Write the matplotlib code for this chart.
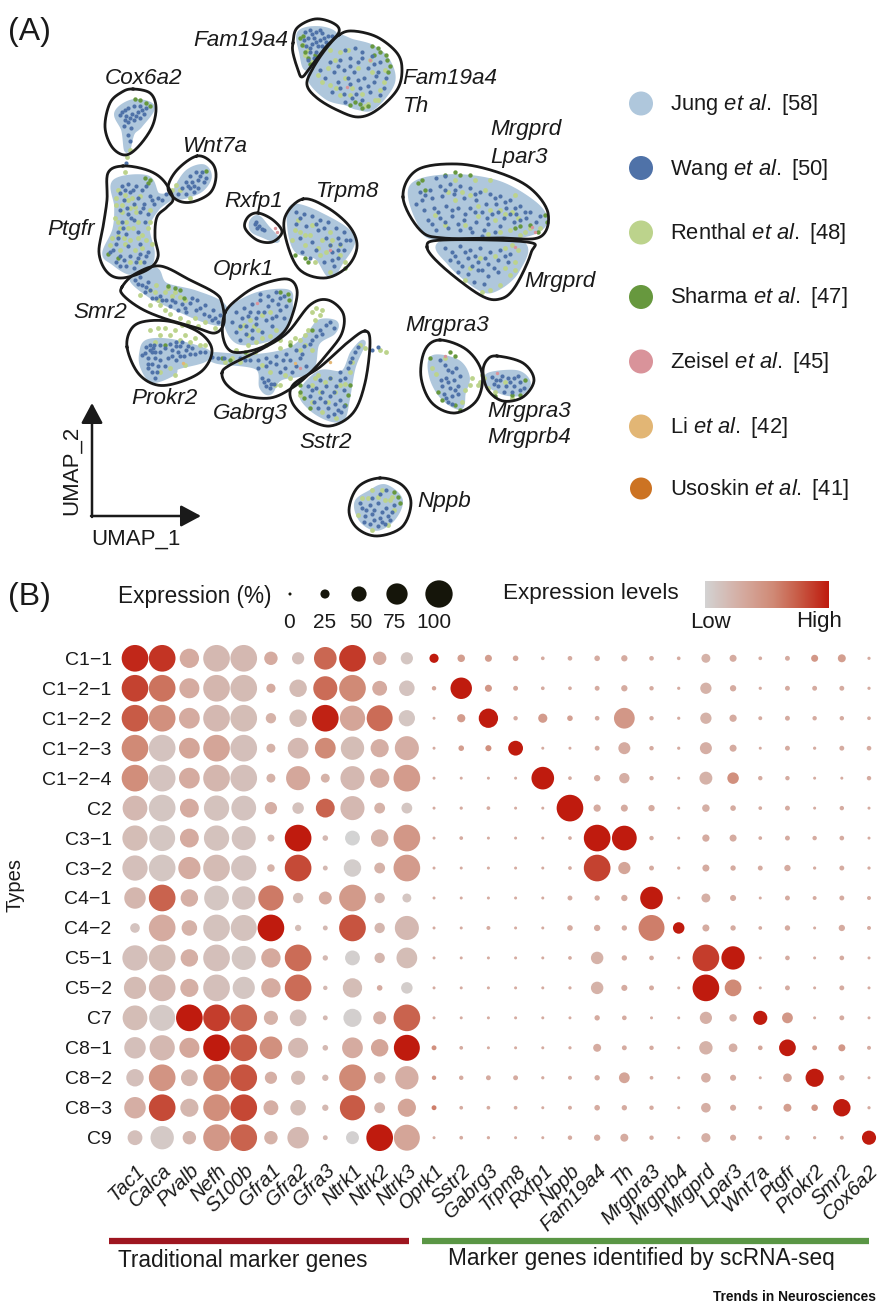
import numpy as np
import matplotlib
matplotlib.use("Agg")
import matplotlib.pyplot as plt
from matplotlib.colors import LinearSegmentedColormap
from matplotlib.transforms import ScaledTranslation

plt.rcParams["font.family"] = ["Liberation Sans", "DejaVu Sans"]
plt.rcParams["mathtext.fontset"] = "custom"
plt.rcParams["mathtext.rm"] = "Liberation Sans"
plt.rcParams["mathtext.it"] = "Liberation Sans:italic"

# ---- dot plot values ----
row_names = ["C1−1", "C1−2−1", "C1−2−2", "C1−2−3", "C1−2−4", "C2", "C3−1", "C3−2", "C4−1",
             "C4−2", "C5−1", "C5−2", "C7", "C8−1", "C8−2", "C8−3", "C9"]
gene_names = ["Tac1", "Calca", "Pvalb", "Nefh", "S100b", "Gfra1", "Gfra2", "Gfra3", "Ntrk1", "Ntrk2",
              "Ntrk3", "Oprk1", "Sstr2", "Gabrg3", "Trpm8", "Rxfp1", "Nppb", "Fam19a4", "Th", "Mrgpra3",
              "Mrgprb4", "Mrgprd", "Lpar3", "Wnt7a", "Ptgfr", "Prokr2", "Smr2", "Cox6a2"]

# percent of cells expressing
pct = [
    [100, 100, 69, 100, 100, 44, 39, 83, 100, 44, 39, 26, 19, 17, 11, 3, 7, 11, 14, 7, 3, 25, 17, 3, 8, 17, 21, 1],
    [100, 100, 72, 100, 100, 26, 61, 89, 100, 50, 53, 6, 78, 17, 8, 3, 3, 8, 14, 6, 1, 35, 14, 1, 8, 8, 8, 1],
    [100, 100, 75, 100, 100, 31, 61, 100, 94, 97, 56, 0, 22, 69, 6, 26, 11, 7, 75, 6, 1, 35, 18, 4, 8, 6, 6, 3],
    [100, 100, 75, 100, 100, 25, 75, 75, 86, 64, 89, 0, 11, 13, 50, 0, 0, 8, 38, 6, 1, 38, 17, 0, 8, 1, 8, 7],
    [100, 100, 75, 100, 100, 25, 89, 25, 89, 69, 100, 0, 0, 0, 0, 83, 3, 14, 31, 6, 0, 42, 36, 6, 6, 0, 0, 6],
    [92, 100, 67, 94, 92, 39, 36, 67, 89, 33, 33, 0, 1, 3, 0, 0, 100, 18, 17, 14, 0, 19, 11, 3, 8, 0, 6, 0],
    [94, 97, 67, 94, 89, 17, 100, 11, 50, 61, 100, 0, 3, 0, 0, 0, 3, 100, 92, 6, 0, 18, 17, 3, 8, 6, 7, 0],
    [94, 100, 81, 100, 94, 19, 100, 8, 61, 33, 100, 0, 0, 0, 0, 0, 3, 100, 39, 8, 1, 17, 10, 8, 14, 1, 8, 1],
    [78, 100, 61, 92, 86, 94, 31, 42, 100, 31, 25, 0, 0, 0, 0, 0, 8, 10, 14, 83, 0, 25, 13, 0, 8, 4, 8, 4],
    [28, 100, 53, 100, 97, 100, 14, 8, 100, 31, 89, 0, 0, 4, 0, 0, 11, 14, 10, 97, 36, 17, 10, 3, 10, 0, 14, 4],
    [94, 100, 61, 100, 89, 69, 100, 10, 50, 31, 75, 0, 0, 0, 0, 0, 3, 40, 10, 7, 0, 100, 86, 0, 7, 0, 7, 0],
    [81, 100, 64, 100, 81, 69, 100, 6, 69, 11, 36, 0, 0, 0, 0, 0, 1, 40, 13, 8, 0, 100, 58, 0, 8, 0, 8, 0],
    [92, 97, 100, 100, 100, 47, 58, 8, 64, 42, 100, 0, 0, 0, 0, 0, 0, 10, 7, 0, 0, 39, 19, 47, 33, 0, 8, 0],
    [78, 94, 72, 100, 100, 83, 72, 11, 75, 61, 97, 8, 3, 0, 0, 0, 1, 21, 8, 6, 0, 44, 24, 7, 58, 8, 17, 4],
    [61, 100, 58, 100, 100, 39, 47, 14, 100, 36, 86, 6, 6, 8, 8, 1, 4, 10, 33, 3, 0, 28, 13, 0, 24, 64, 10, 0],
    [78, 100, 64, 100, 100, 50, 53, 14, 94, 33, 64, 8, 3, 3, 3, 0, 4, 11, 10, 6, 0, 28, 13, 4, 21, 15, 61, 1],
    [50, 86, 44, 100, 100, 44, 78, 8, 42, 100, 97, 0, 3, 1, 0, 0, 6, 14, 21, 6, 0, 26, 13, 4, 7, 1, 4, 47],
]

# scaled expression level, 0 = low, 100 = high
level = [
    [95, 90, 30, 20, 20, 30, 15, 70, 88, 30, 10, 100, 40, 40, 35, 30, 30, 30, 30, 30, 30, 25, 30, 30, 30, 45, 40, 30],
    [85, 65, 30, 22, 18, 30, 18, 68, 55, 30, 12, 35, 100, 45, 35, 30, 30, 30, 30, 30, 30, 25, 30, 30, 30, 30, 30, 30],
    [75, 50, 30, 20, 17, 25, 17, 97, 35, 68, 10, 30, 42, 100, 30, 42, 38, 30, 45, 30, 30, 25, 30, 30, 30, 30, 30, 30],
    [55, 12, 35, 35, 15, 25, 20, 55, 17, 28, 28, 30, 40, 50, 100, 30, 30, 30, 30, 30, 30, 28, 30, 30, 30, 30, 30, 30],
    [52, 12, 30, 22, 15, 25, 33, 25, 20, 30, 42, 30, 30, 30, 30, 100, 30, 30, 28, 30, 30, 25, 50, 30, 30, 30, 30, 30],
    [20, 10, 30, 13, 12, 27, 14, 72, 20, 25, 10, 30, 30, 30, 30, 30, 100, 30, 30, 30, 30, 27, 30, 30, 30, 30, 30, 30],
    [17, 10, 30, 13, 12, 20, 100, 20, 0, 25, 45, 30, 30, 30, 30, 30, 30, 100, 100, 30, 30, 30, 30, 30, 30, 30, 30, 30],
    [15, 10, 30, 18, 12, 25, 82, 20, 5, 25, 42, 30, 30, 30, 30, 30, 30, 85, 35, 30, 30, 30, 30, 30, 30, 30, 30, 30],
    [22, 72, 27, 10, 12, 62, 17, 30, 43, 20, 10, 30, 30, 30, 30, 30, 30, 30, 30, 100, 30, 27, 30, 30, 30, 30, 30, 30],
    [12, 30, 25, 13, 13, 100, 17, 20, 78, 22, 20, 30, 30, 30, 30, 30, 30, 30, 30, 60, 100, 30, 30, 30, 30, 30, 30, 30],
    [15, 17, 27, 15, 10, 32, 68, 20, 3, 22, 17, 30, 30, 30, 30, 30, 30, 25, 30, 30, 30, 87, 100, 30, 30, 30, 30, 30],
    [18, 20, 27, 15, 10, 30, 68, 20, 17, 30, 5, 30, 30, 30, 30, 30, 30, 25, 30, 30, 30, 100, 55, 30, 30, 30, 30, 30],
    [17, 8, 100, 87, 70, 25, 15, 20, 3, 27, 72, 30, 30, 30, 30, 30, 30, 30, 30, 30, 30, 27, 27, 100, 45, 30, 30, 30],
    [15, 20, 33, 100, 75, 50, 20, 20, 30, 35, 100, 50, 30, 30, 30, 30, 30, 30, 30, 30, 30, 25, 27, 35, 100, 40, 45, 30],
    [15, 47, 22, 57, 78, 27, 18, 20, 55, 22, 28, 45, 30, 30, 30, 30, 30, 30, 35, 30, 30, 28, 30, 30, 35, 100, 30, 30],
    [28, 82, 22, 52, 83, 28, 17, 20, 75, 22, 35, 60, 30, 30, 30, 30, 30, 30, 30, 30, 30, 28, 30, 30, 40, 45, 100, 30],
    [15, 8, 22, 45, 72, 25, 20, 20, 2, 100, 35, 30, 30, 30, 30, 30, 30, 30, 30, 30, 30, 27, 30, 30, 30, 30, 30, 100],
]

size_legend_values = [0, 25, 50, 75, 100]

# ---- UMAP panel: reference pixel coordinates ----
outlines = {
    "Fam19a4": [(293, 43), (297, 28), (315, 19), (333, 23), (339, 32), (325, 48), (310, 68), (302, 77), (298, 70), (293, 53)],
    "Fam19a4 Th": [(339, 35), (353, 31), (377, 37), (397, 53), (402, 70), (397, 90), (377, 110), (358, 117), (337, 110), (317, 98), (307, 85), (312, 70), (325, 50)],
    "Cox6a2": [(133, 89), (150, 93), (156, 107), (152, 127), (138, 147), (125, 155), (112, 147), (105, 127), (110, 103), (122, 92)],
    "Ptgfr": [(123, 166), (147, 170), (163, 180), (173, 198), (167, 207), (157, 217), (155, 237), (158, 257), (147, 270), (122, 278), (107, 272), (99, 253), (103, 227), (107, 200), (108, 173)],
    "Wnt7a": [(197, 156), (212, 163), (216, 177), (210, 193), (192, 202), (177, 200), (168, 188), (177, 170)],
    "Rxfp1": [(258, 213), (273, 220), (282, 232), (272, 242), (257, 240), (245, 228), (248, 217)],
    "Trpm8": [(303, 199), (328, 208), (350, 227), (357, 247), (347, 267), (325, 278), (300, 270), (287, 243), (285, 217)],
    "Smr2": [(122, 287), (135, 274), (160, 266), (190, 280), (215, 293), (222, 303), (224, 323), (215, 333), (197, 328), (163, 318), (140, 308), (123, 295)],
    "Prokr2": [(127, 347), (132, 328), (147, 321), (173, 322), (200, 333), (212, 350), (203, 370), (180, 382), (157, 385), (138, 373)],
    "Oprk1": [(225, 313), (240, 297), (260, 285), (287, 279), (297, 290), (293, 313), (283, 333), (260, 348), (233, 352), (223, 337)],
    "Gabrg3": [(222, 373), (230, 365), (260, 350), (287, 333), (310, 305), (328, 300), (343, 313), (342, 333), (328, 353), (310, 373), (292, 388), (270, 398), (243, 395), (227, 385)],
    "Sstr2": [(365, 331), (370, 343), (365, 383), (353, 413), (330, 426), (307, 418), (292, 402), (293, 385), (320, 367), (347, 343)],
    "Nppb": [(380, 478), (402, 485), (411, 503), (402, 527), (377, 536), (357, 528), (349, 510), (358, 487)],
    "Mrgprd Lpar3": [(403, 197), (417, 170), (457, 164), (497, 172), (530, 188), (548, 213), (540, 237), (500, 238), (443, 238), (420, 230)],
    "Mrgprd": [(427, 247), (443, 240), (527, 242), (531, 253), (515, 287), (500, 299), (480, 295), (443, 267)],
    "Mrgpra3": [(440, 340), (467, 350), (482, 373), (477, 400), (455, 413), (432, 403), (421, 377), (425, 350)],
    "Mrgpra3 Mrgprb4": [(497, 356), (523, 363), (534, 380), (523, 397), (503, 401), (488, 390), (483, 372), (487, 360)],
}

jung_regions = [
    [(300, 33), (320, 29), (335, 36), (320, 52), (307, 68), (302, 53)],
    [(335, 38), (353, 42), (373, 48), (388, 62), (392, 83), (373, 107), (357, 107), (347, 103), (327, 97), (310, 78), (320, 60)],
    [(117, 113), (133, 102), (152, 107), (140, 125), (132, 133), (127, 150), (124, 130)],
    [(115, 182), (147, 178), (157, 195), (170, 197), (157, 208), (147, 227), (152, 253), (147, 267), (130, 272), (113, 262), (105, 253), (115, 230), (117, 207)],
    [(175, 193), (187, 173), (203, 167), (209, 177), (200, 190), (180, 197)],
    [(252, 222), (258, 218), (267, 228), (277, 240), (263, 235), (253, 230)],
    [(293, 207), (320, 215), (352, 237), (340, 263), (330, 275), (317, 257), (297, 250), (290, 227)],
    [(132, 278), (155, 270), (165, 285), (195, 293), (222, 305), (225, 322), (205, 320), (170, 305), (150, 295)],
    [(142, 353), (148, 342), (173, 342), (207, 352), (203, 360), (177, 367), (173, 373), (153, 380), (143, 367)],
    [(230, 310), (257, 295), (287, 292), (290, 303), (288, 320), (273, 337), (240, 342), (227, 325)],
    [(213, 355), (253, 357), (290, 350), (310, 333), (320, 322), (335, 323), (333, 332), (317, 343), (310, 370), (280, 378), (270, 392), (262, 387), (257, 367), (217, 361)],
    [(302, 392), (320, 373), (343, 373), (353, 353), (363, 343), (353, 367), (347, 400), (342, 418), (328, 418), (310, 407)],
    [(357, 503), (370, 493), (385, 487), (400, 500), (393, 518), (377, 528), (362, 520)],
    [(412, 187), (450, 177), (497, 183), (533, 203), (545, 220), (533, 232), (500, 237), (437, 238), (420, 223)],
    [(443, 243), (520, 243), (517, 270), (497, 288), (480, 288), (450, 263)],
    [(433, 358), (457, 362), (467, 377), (463, 393), (460, 407), (443, 397), (432, 377)],
    [(490, 375), (517, 373), (528, 383), (520, 393), (503, 392), (488, 383)],
]

wang_points = [
    (305, 32), (310, 30), (316, 32), (322, 33), (328, 36), (332, 36), (308, 38), (314, 38), (320, 40), (326, 42), (312, 44), (318, 46), (306, 46), (310, 52), (316, 52), (308, 60), (304, 40), (320, 30), (314, 58),
    (312, 34), (324, 38), (316, 42), (310, 48), (322, 46),
    (345, 50), (355, 48), (362, 52), (372, 56), (380, 62), (340, 60), (350, 58), (358, 62), (368, 68), (378, 72), (386, 78), (334, 72), (344, 70), (354, 72), (364, 78), (374, 82), (384, 88), (325, 78), (338, 82), (350, 84), (360, 88), (370, 92), (380, 95), (332, 92), (344, 94), (352, 98), (362, 100), (345, 102), (320, 70), (330, 62),
    (350, 66), (362, 58), (374, 64), (348, 78), (358, 80), (368, 86), (340, 88), (356, 94), (376, 76), (338, 66),
    (122, 112), (128, 108), (134, 106), (140, 106), (146, 108), (120, 115), (126, 116), (132, 114), (138, 112), (144, 114), (128, 122), (134, 120), (140, 118), (124, 126), (131, 128), (128, 135), (130, 141), (126, 163),
    (125, 110), (130, 118), (136, 116), (142, 110), (125, 120),
    (122, 186), (128, 184), (136, 186), (146, 186), (120, 193), (130, 192), (138, 198), (150, 196), (158, 198), (166, 194), (124, 200), (134, 204), (144, 204), (154, 204), (120, 210), (128, 214), (140, 212), (148, 214), (122, 222), (134, 220), (145, 222), (118, 232), (126, 234), (138, 232), (116, 244), (128, 246), (140, 244), (110, 252), (120, 256), (130, 256), (140, 254), (148, 252), (116, 262), (126, 266), (136, 262), (144, 262),
    (125, 190), (133, 190), (142, 190), (152, 200), (162, 200), (127, 208), (143, 208), (131, 218), (123, 228), (113, 250), (124, 260), (134, 268), (120, 266), (138, 258), (146, 256), (118, 238),
    (190, 176), (196, 172), (202, 172), (206, 178), (186, 182), (192, 182), (198, 180), (204, 182), (182, 188), (190, 188), (198, 188), (178, 194), (186, 194), (194, 192), (200, 176), (188, 186), (194, 186),
    (256, 222), (259, 226), (262, 229), (257, 228), (264, 230), (255, 224),
    (296, 212), (304, 214), (312, 216), (320, 220), (328, 222), (336, 228), (344, 232), (350, 240), (296, 224), (306, 226), (318, 230), (300, 238), (312, 242), (326, 238), (338, 238), (344, 250), (338, 258), (302, 252), (316, 250), (332, 252), (334, 266), (310, 258), (324, 262),
    (300, 218), (316, 224), (324, 228), (340, 244), (346, 240), (330, 245), (338, 250), (332, 260),
    (135, 280), (142, 285), (148, 282), (145, 292), (152, 298), (166, 300), (175, 302), (182, 304), (190, 303), (197, 300), (205, 305), (213, 310), (220, 315), (170, 306), (178, 310), (186, 312), (196, 310), (204, 314), (212, 320), (218, 322), (160, 296), (192, 298), (140, 277),
    (138, 284), (146, 287), (156, 298), (172, 300), (185, 308), (200, 308), (209, 316), (215, 318), (162, 300), (150, 290),
    (146, 347), (150, 345), (145, 353), (152, 352), (148, 358), (155, 358), (152, 364), (158, 366), (152, 372), (155, 378), (165, 348), (170, 344), (176, 342), (180, 346), (172, 350), (178, 352), (186, 350), (192, 348), (168, 358), (176, 360), (184, 356), (165, 366), (195, 354), (205, 352), (142, 355), (160, 345), (212, 357), (218, 358), (224, 358),
    (150, 350), (153, 348), (148, 364), (155, 352), (160, 352), (176, 346), (182, 342), (180, 356), (172, 356), (188, 346), (148, 368), (157, 372), (160, 360), (190, 354), (200, 352), (154, 345),
    (236, 312), (244, 308), (252, 304), (260, 300), (268, 296), (276, 292), (284, 296), (232, 322), (242, 318), (250, 312), (258, 312), (268, 306), (278, 304), (286, 306), (236, 332), (246, 326), (256, 324), (266, 320), (276, 316), (284, 318), (240, 340), (252, 338), (262, 332), (272, 326), (260, 294),
    (248, 316), (272, 300), (280, 298), (240, 326), (252, 330), (264, 312), (280, 310), (272, 318), (256, 318), (246, 334),
    (240, 358), (250, 360), (258, 360), (266, 358), (276, 356), (286, 354), (296, 350), (304, 346), (312, 340), (320, 330), (326, 325), (330, 322), (334, 328), (258, 368), (266, 366), (276, 364), (290, 360), (300, 358), (306, 366), (262, 378), (266, 386), (270, 388), (274, 384), (280, 372), (296, 366), (292, 372), (322, 334),
    (245, 360), (270, 362), (283, 360), (310, 344), (316, 336), (302, 354), (285, 368), (268, 380), (264, 382), (271, 384),
    (358, 347), (355, 352), (352, 358), (348, 368), (345, 378), (320, 380), (330, 378), (340, 372), (308, 386), (316, 388), (326, 386), (336, 386), (344, 390), (310, 396), (320, 398), (330, 396), (340, 400), (318, 408), (328, 408), (338, 410), (344, 406), (328, 416), (334, 414), (378, 347), (372, 350),
    (312, 390), (322, 392), (334, 392), (340, 380), (350, 362), (325, 402), (335, 404), (314, 402), (341, 412),
    (362, 508), (370, 505), (378, 503), (386, 508), (394, 505), (365, 516), (372, 514), (380, 518), (388, 516), (370, 524), (378, 526), (385, 524), (372, 498), (380, 494), (386, 490), (360, 503), (392, 512),
    (366, 510), (374, 510), (382, 512), (374, 520), (382, 522), (390, 520), (364, 522),
    (430, 190), (440, 186), (450, 184), (460, 186), (470, 188), (480, 192), (490, 194), (500, 196), (510, 200), (520, 206), (530, 212), (540, 216), (422, 200), (432, 198), (442, 196), (454, 194), (464, 198), (476, 200), (486, 204), (496, 204), (506, 208), (516, 214), (526, 218), (536, 222), (424, 210), (434, 208), (446, 206), (458, 208), (470, 208), (482, 212), (492, 214), (504, 218), (514, 222), (428, 220), (440, 218), (452, 216), (464, 220), (476, 222), (488, 224), (500, 226), (436, 230), (448, 228), (460, 230), (472, 232), (484, 230), (416, 204), (445, 176), (436, 178),
    (445, 190), (455, 190), (475, 194), (495, 198), (505, 202), (515, 208), (525, 212), (438, 212), (452, 210), (465, 214), (475, 212), (487, 218), (498, 212), (510, 214), (520, 220), (432, 224), (445, 222), (458, 224), (470, 228), (482, 236), (420, 192), (425, 195), (495, 232),
    (445, 248), (452, 252), (460, 246), (470, 250), (480, 248), (490, 252), (500, 250), (510, 254), (450, 260), (458, 262), (468, 258), (478, 262), (488, 264), (498, 260), (508, 262), (458, 272), (468, 274), (478, 270), (488, 276), (498, 272), (474, 282), (484, 284),
    (455, 256), (465, 252), (475, 256), (485, 258), (505, 256), (462, 266), (472, 266), (482, 270), (494, 268),
    (445, 365), (452, 372), (446, 378), (454, 380), (460, 376), (442, 386), (450, 388), (458, 386), (444, 394), (452, 396), (458, 394), (448, 402), (440, 360),
    (448, 370), (456, 368), (441, 380), (448, 382), (455, 390), (446, 398), (452, 404),
    (492, 377), (496, 380), (502, 376), (508, 378), (514, 378), (520, 382), (524, 388), (498, 386), (506, 386), (514, 386), (520, 390), (504, 392), (512, 392), (494, 384), (510, 382), (518, 376), (500, 380),
]

renthal_points = [
    (303, 45), (308, 50), (305, 55), (312, 62),
    (335, 60), (340, 52), (328, 68), (322, 82), (336, 88), (345, 78), (362, 94), (375, 100), (365, 106), (385, 70), (370, 60), (348, 50), (330, 50), (352, 88), (318, 75), (368, 104), (380, 90),
    (358, 68), (330, 85), (340, 95), (350, 95), (372, 72), (384, 82), (378, 100),
    (130, 150), (127, 157), (125, 172),
    (118, 190), (125, 195), (116, 205), (122, 212), (130, 208), (126, 222), (138, 222), (120, 228), (130, 240), (142, 235), (135, 250), (146, 240), (110, 245), (124, 238), (115, 218), (140, 196), (132, 198), (128, 228), (136, 212), (150, 210), (140, 262), (148, 228), (120, 250),
    (116, 198), (128, 200), (122, 205), (135, 207), (118, 222), (133, 228), (138, 238), (125, 244), (118, 236), (142, 248), (130, 262), (150, 222), (112, 238), (152, 244),
    (150, 290), (156, 285), (165, 292), (172, 296), (180, 297), (160, 305), (170, 314), (180, 318), (195, 318), (205, 322), (188, 322), (215, 328), (150, 305), (140, 295),
    (155, 292), (168, 288), (175, 292), (185, 300), (198, 326), (182, 325), (165, 310), (158, 300),
    (150, 330), (160, 335), (170, 335), (180, 340), (190, 342), (165, 328), (195, 338), (200, 345), (155, 342), (170, 368), (185, 365),
    (158, 328), (175, 330), (185, 335), (205, 345), (160, 372), (175, 375),
    (225, 362), (232, 358), (280, 348), (290, 342), (300, 340), (308, 330), (315, 320), (312, 350), (300, 350), (270, 372), (290, 378), (275, 385), (262, 365), (312, 312), (322, 310),
    (240, 362), (248, 355), (295, 338), (305, 335), (305, 345), (320, 315), (316, 308), (285, 375), (280, 385), (255, 352),
    (250, 320), (258, 330), (262, 315), (248, 335), (270, 312), (240, 328), (276, 330), (280, 340), (266, 345), (236, 350),
    (244, 325), (254, 326), (262, 338), (270, 336), (248, 345), (256, 342),
    (300, 395), (315, 378), (325, 382), (335, 392), (345, 384), (350, 372), (360, 345), (312, 402), (322, 412), (336, 418), (365, 348), (380, 350), (386, 352),
    (330, 378), (320, 392), (328, 402), (340, 385), (312, 385), (318, 375), (352, 362),
    (300, 232), (292, 240), (310, 235), (322, 240), (330, 245), (340, 245), (305, 245), (320, 255), (330, 272), (345, 262), (312, 225), (330, 232), (298, 220),
    (295, 230), (305, 235), (318, 248), (326, 252), (315, 262), (332, 240), (340, 255),
    (372, 490), (382, 490), (392, 497), (362, 498), (385, 500), (358, 515), (372, 530), (388, 525), (378, 497), (390, 500), (368, 498), (394, 510),
    (180, 190), (172, 190), (190, 198), (176, 185),
    (455, 200), (470, 195), (485, 190), (500, 210), (512, 212), (495, 220), (478, 216), (465, 225), (445, 225), (510, 230), (530, 228), (540, 228), (455, 180), (475, 180), (490, 180), (515, 195), (525, 232),
    (448, 192), (462, 192), (478, 206), (490, 210), (505, 214), (518, 218), (488, 234), (500, 232), (520, 235), (435, 215),
    (480, 258), (495, 256), (505, 268), (515, 262), (505, 248), (470, 268), (490, 290), (482, 292), (518, 250), (465, 280), (515, 270), (510, 275), (500, 285), (512, 245),
    (470, 385), (478, 385), (465, 390), (472, 378), (462, 402), (445, 358), (432, 368), (436, 374),
    (484, 378), (488, 388), (495, 392), (505, 382), (512, 398), (482, 375), (480, 382),
]

sharma_points = [
    (300, 38), (302, 45), (305, 52), (308, 58), (310, 64), (303, 36), (315, 55),
    (372, 46), (380, 52), (387, 60), (390, 66), (386, 55), (378, 48), (360, 104), (368, 106), (355, 102), (362, 108), (350, 105), (374, 55), (388, 72),
    (135, 99), (140, 100), (146, 103), (150, 106),
    (145, 178), (150, 180), (148, 183), (118, 258), (108, 254),
    (175, 288), (180, 290), (184, 298), (168, 286), (165, 345),
    (222, 358), (230, 360), (290, 345), (245, 352), (312, 330),
    (288, 294), (289, 300), (280, 292),
    (300, 392), (304, 398), (345, 405), (348, 395), (350, 385), (300, 385), (310, 408),
    (295, 255), (305, 258), (308, 262), (345, 268),
    (398, 497), (400, 503), (394, 492), (206, 171),
    (418, 183), (422, 180), (425, 190), (445, 175), (455, 172), (460, 175), (470, 175), (530, 225), (538, 232), (545, 215), (547, 222), (515, 228), (520, 226),
    (430, 358), (450, 352), (455, 356), (438, 392), (442, 400), (455, 405), (460, 410),
    (495, 396), (512, 395), (525, 380), (520, 395),
]

zeisel_points = [(370, 60), (347, 87), (275, 228), (277, 232), (330, 250), (532, 227), (535, 232), (515, 247), (257, 303), (300, 368), (497, 373), (445, 356)]
li_points = [(295, 363), (183, 363), (330, 362)]

dataset_names = [r"Jung $\mathit{et\ al.}$[58]", r"Wang $\mathit{et\ al.}$[50]", r"Renthal $\mathit{et\ al.}$[48]",
                 r"Sharma $\mathit{et\ al.}$[47]", r"Zeisel $\mathit{et\ al.}$[45]", r"Li $\mathit{et\ al.}$[42]",
                 r"Usoskin $\mathit{et\ al.}$[41]"]
dataset_colors = ["#afc7dc", "#4f72a8", "#bcd38c", "#67983e", "#d9939a", "#e2b675", "#cc7323"]

W, H = 894, 1312
TEXT = "#1a1a1a"
expr_cmap = LinearSegmentedColormap.from_list(
    "expr", [(0, "#d3d3d3"), (0.3, "#d5aba0"), (0.55, "#d08a76"), (0.75, "#c85c47"), (1, "#bf1b0e")])


def closed_curve(pts, n=16):
    # closed Catmull-Rom through the given vertices
    p = np.array(pts, dtype=float)
    t = np.linspace(0, 1, n, endpoint=False)[:, None]
    out = []
    for i in range(len(p)):
        p0, p1, p2, p3 = p[i - 1], p[i], p[(i + 1) % len(p)], p[(i + 2) % len(p)]
        out.append(0.5 * (2 * p1 + (p2 - p0) * t + (2 * p0 - 5 * p1 + 4 * p2 - p3) * t ** 2
                          + (3 * p1 - p0 - 3 * p2 + p3) * t ** 3))
    out = np.vstack(out)
    return np.vstack([out, out[:1]])


def dot_area(values):
    # diameter in px grows linearly with percent, area in pt^2
    d_px = (9 + 0.71 * np.asarray(values, dtype=float)) / 3
    return (d_px * 72 / 100) ** 2


fig = plt.figure(figsize=(W / 100, H / 100), dpi=100)

# full-figure overlay in reference pixels
ov = fig.add_axes([0, 0, 1, 1])
ov.set_xlim(0, W)
ov.set_ylim(H, 0)
ov.axis("off")

# panel A
for region in jung_regions:
    xy = closed_curve(region)
    ov.fill(xy[:, 0], xy[:, 1], color=dataset_colors[0], lw=4, zorder=1)
for pts, color, s, z in [(renthal_points, dataset_colors[2], 12, 2), (sharma_points, dataset_colors[3], 10, 3),
                         (wang_points, dataset_colors[1], 9, 4), (zeisel_points, dataset_colors[4], 6, 5),
                         (li_points, dataset_colors[5], 6, 5)]:
    arr = np.array(pts)
    ov.scatter(arr[:, 0], arr[:, 1], s=s, c=color, linewidths=0, zorder=z)
for name, pts in outlines.items():
    xy = closed_curve(pts)
    ov.plot(xy[:, 0], xy[:, 1], color="#1a1a1a", lw=2.0, zorder=6)

gene_labels = [
    ("Fam19a4", 288, 41, "right"), ("Fam19a4", 402, 79, "left"), ("Th", 403, 106, "left"), ("Cox6a2", 105, 78, "left"),
    ("Wnt7a", 182, 146, "left"), ("Ptgfr", 95, 229, "right"), ("Rxfp1", 283, 202, "right"), ("Trpm8", 316, 192, "left"),
    ("Oprk1", 213, 270, "left"), ("Smr2", 127, 313, "right"), ("Prokr2", 131, 398, "left"), ("Gabrg3", 213, 414, "left"),
    ("Sstr2", 299, 443, "left"), ("Nppb", 417, 502, "left"), ("Mrgprd", 490, 129, "left"), ("Lpar3", 490, 157, "left"),
    ("Mrgprd", 524, 282, "left"), ("Mrgpra3", 405, 326, "left"), ("Mrgpra3", 487, 412, "left"), ("Mrgprb4", 487, 438, "left"),
]
for text, x, y, ha in gene_labels:
    ov.text(x, y, text, style="italic", fontsize=16.2, ha=ha, va="center", color=TEXT)

ov.text(8, 32, "(A)", fontsize=23, va="center", color=TEXT)
ov.text(8, 597, "(B)", fontsize=23, va="center", color=TEXT)

# UMAP arrows
arrow = dict(arrowstyle="-|>,head_length=0.56,head_width=0.3", color="#1a1a1a", lw=1.8, mutation_scale=22,
             shrinkA=0, shrinkB=0)
ov.annotate("", xy=(92, 403), xytext=(92, 517), arrowprops=arrow)
ov.annotate("", xy=(201, 516), xytext=(91, 516), arrowprops=arrow)
ov.text(71, 470, "UMAP_2", rotation=90, fontsize=16, ha="center", va="center", color=TEXT)
ov.text(136, 539, "UMAP_1", fontsize=16, ha="center", va="center", color=TEXT)

# dataset legend
legend_y = [103.5, 168, 232.5, 297, 361.5, 426.5, 488.5]
legend_d = np.array([24, 24, 24, 24, 24, 24, 22])
ov.scatter([641] * 7, legend_y, s=(legend_d * 0.72) ** 2, c=dataset_colors, linewidths=0, zorder=3)
for y, name in zip(legend_y, dataset_names):
    ov.text(670, y + 1, name.replace("$[", "$ ["), fontsize=15.8, va="center", color=TEXT)

# size legend
ov.text(118, 596, "Expression (%)", fontsize=16.3, va="center", color=TEXT)
ov.scatter([290, 325, 359, 397, 439], [594] * 5, s=dot_area(size_legend_values) * 1.05, c="#15150a", linewidths=0)
for x, v in zip([289, 325, 361, 395, 434], size_legend_values):
    ov.text(x, 623, str(v), fontsize=15, ha="center", va="center", color=TEXT)

# colour legend
ov.text(503, 594, "Expression levels", fontsize=16.2, va="center", color=TEXT)
ov.imshow(np.linspace(0, 1, 256)[None, :], cmap=expr_cmap, extent=(705, 829, 608, 581), aspect="auto", zorder=2)
ov.set_xlim(0, W)
ov.set_ylim(H, 0)
ov.text(711, 623, "Low", fontsize=16, ha="center", va="center", color=TEXT)
ov.text(819, 622, "High", fontsize=16, ha="center", va="center", color=TEXT)

# panel B dot plot, columns at x px 135 + 27.19 i, rows at y px 658.3 + 29.96 j
dx, dy = 27.19, 29.96
left = 135 - dx / 2
right = 869 + dx / 2
top = 658.3 - dy / 2
bottom = 1137.7 + dy / 2
ax = fig.add_axes([left / W, 1 - bottom / H, (right - left) / W, (bottom - top) / H])
ax.patch.set_alpha(0)
xx, yy = np.meshgrid(np.arange(len(gene_names)), np.arange(len(row_names)))
ax.scatter(xx.ravel(), yy.ravel(), s=dot_area(np.array(pct).ravel()), c=np.array(level).ravel() / 100,
           cmap=expr_cmap, vmin=0, vmax=1, linewidths=0, clip_on=False)
ax.set_xlim(-0.5, len(gene_names) - 0.5)
ax.set_ylim(len(row_names) - 0.5, -0.5)
for side in ax.spines.values():
    side.set_visible(False)
ax.set_xticks(range(len(gene_names)))
ax.set_xticklabels(gene_names, rotation=45, ha="right", va="top", rotation_mode="anchor", style="italic",
                   fontsize=14.5, color=TEXT)
offset = ScaledTranslation(5 / 100, 0, fig.dpi_scale_trans)
for lab in ax.get_xticklabels():
    lab.set_transform(lab.get_transform() + offset)
ax.set_yticks(range(len(row_names)))
ax.set_yticklabels(row_names, fontsize=14, color=TEXT)
ax.tick_params(axis="y", length=0, pad=7)
ax.tick_params(axis="x", length=0, pad=6)

ov.text(15, 885, "Types", rotation=90, fontsize=14.5, ha="center", va="center", color=TEXT)
ov.plot([109, 409], [1241, 1241], color="#9e1620", lw=4.5, solid_capstyle="butt")
ov.plot([422, 869], [1241, 1241], color="#5a9645", lw=4.5, solid_capstyle="butt")
ov.text(118, 1260, "Traditional marker genes", fontsize=16.3, va="center", color=TEXT)
ov.text(448, 1258, "Marker genes identified by scRNA-seq", fontsize=16.3, va="center", color=TEXT)
ov.text(876, 1297, "Trends in Neurosciences", fontsize=9.9, fontweight="bold", ha="right", va="center", color="#111111")

fig.savefig("out.png", dpi=100)
